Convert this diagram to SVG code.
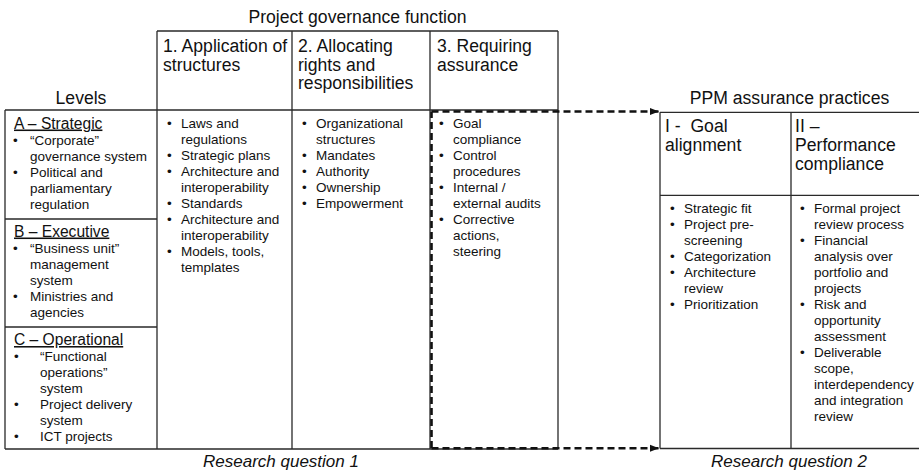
<svg xmlns="http://www.w3.org/2000/svg" width="919" height="473" viewBox="0 0 919 473">
<style>
text{font-family:"Liberation Sans",Arial,sans-serif;fill:#111}
.h{font-size:17.6px}
.b{font-size:13.5px}
.s{font-size:15.6px;text-decoration:underline}
.rq{font-size:17px;font-style:italic}
.ln{stroke:#2a2a2a;stroke-width:1.3;fill:none}
.dash{stroke:#111;stroke-width:2.6;fill:none;stroke-dasharray:7 4}
</style>
<defs>
<marker id="arr" markerUnits="userSpaceOnUse" markerWidth="10" markerHeight="10" refX="9" refY="5" orient="auto">
<path d="M0,1.5 L9,5 L0,8.5 Z" fill="#111"/>
</marker>
</defs>
<rect width="919" height="473" fill="#fff"/>

<g id="titles">
<text class="h" x="357.5" y="23" text-anchor="middle">Project governance function</text>
<text class="h" x="81" y="103.5" text-anchor="middle">Levels</text>
<text class="h" x="789.5" y="104" text-anchor="middle">PPM assurance practices</text>
<text class="rq" x="281" y="467" text-anchor="middle">Research question 1</text>
<text class="rq" x="789" y="467" text-anchor="middle">Research question 2</text>
</g>

<g id="grid-left">
<path class="ln" d="M157,31 H558 M5,110 H558 M5,449 H558 M5,110 V449 M157,31 V449 M292,31 V449 M430,31 V449 M558,31 V449 M5,219 H157 M5,327 H157"/>
</g>

<g id="grid-right">
<path class="ln" d="M660,112.3 H919 M660,195.3 H919 M660,448.5 H919 M660,112.3 V448.5 M791,112.3 V448.5"/>
</g>

<g id="level-a">
<text class="s" x="14" y="128.5">A – Strategic</text>
<text class="b"><tspan x="13" y="144.5">•</tspan><tspan x="30" y="144.5">“Corporate”</tspan><tspan x="30" y="160.5">governance system</tspan><tspan x="13" y="176.5">•</tspan><tspan x="30" y="176.5">Political and</tspan><tspan x="30" y="192.5">parliamentary</tspan><tspan x="30" y="208.5">regulation</tspan></text>
</g>

<g id="level-b">
<text class="s" x="14" y="236.5">B – Executive</text>
<text class="b"><tspan x="13" y="252.5">•</tspan><tspan x="30" y="252.5">“Business unit”</tspan><tspan x="30" y="268.5">management</tspan><tspan x="30" y="284.5">system</tspan><tspan x="13" y="300.5">•</tspan><tspan x="30" y="300.5">Ministries and</tspan><tspan x="30" y="316.5">agencies</tspan></text>
</g>

<g id="level-c">
<text class="s" x="14" y="345">C – Operational</text>
<text class="b"><tspan x="14" y="361">•</tspan><tspan x="40" y="361">“Functional</tspan><tspan x="40" y="377">operations”</tspan><tspan x="40" y="393">system</tspan><tspan x="14" y="409">•</tspan><tspan x="40" y="409">Project delivery</tspan><tspan x="40" y="425">system</tspan><tspan x="14" y="441">•</tspan><tspan x="40" y="441">ICT projects</tspan></text>
</g>

<g id="col-1">
<text class="h"><tspan x="163" y="52">1. Application of</tspan><tspan x="163" y="70.5">structures</tspan></text>
<text class="b"><tspan x="167" y="127.5">•</tspan><tspan x="181" y="127.5">Laws and</tspan><tspan x="181" y="143.5">regulations</tspan><tspan x="167" y="159.5">•</tspan><tspan x="181" y="159.5">Strategic plans</tspan><tspan x="167" y="175.5">•</tspan><tspan x="181" y="175.5">Architecture and</tspan><tspan x="181" y="191.5">interoperability</tspan><tspan x="167" y="207.5">•</tspan><tspan x="181" y="207.5">Standards</tspan><tspan x="167" y="223.5">•</tspan><tspan x="181" y="223.5">Architecture and</tspan><tspan x="181" y="239.5">interoperability</tspan><tspan x="167" y="255.5">•</tspan><tspan x="181" y="255.5">Models, tools,</tspan><tspan x="181" y="271.5">templates</tspan></text>
</g>

<g id="col-2">
<text class="h"><tspan x="298" y="52">2. Allocating</tspan><tspan x="298" y="70.5">rights and</tspan><tspan x="298" y="89">responsibilities</tspan></text>
<text class="b"><tspan x="302" y="127.5">•</tspan><tspan x="316" y="127.5">Organizational</tspan><tspan x="316" y="143.5">structures</tspan><tspan x="302" y="159.5">•</tspan><tspan x="316" y="159.5">Mandates</tspan><tspan x="302" y="175.5">•</tspan><tspan x="316" y="175.5">Authority</tspan><tspan x="302" y="191.5">•</tspan><tspan x="316" y="191.5">Ownership</tspan><tspan x="302" y="207.5">•</tspan><tspan x="316" y="207.5">Empowerment</tspan></text>
</g>

<g id="col-3">
<text class="h"><tspan x="437" y="52">3. Requiring</tspan><tspan x="437" y="70.5">assurance</tspan></text>
<text class="b"><tspan x="439" y="127.5">•</tspan><tspan x="453" y="127.5">Goal</tspan><tspan x="453" y="143.5">compliance</tspan><tspan x="439" y="159.5">•</tspan><tspan x="453" y="159.5">Control</tspan><tspan x="453" y="175.5">procedures</tspan><tspan x="439" y="191.5">•</tspan><tspan x="453" y="191.5">Internal /</tspan><tspan x="453" y="207.5">external audits</tspan><tspan x="439" y="223.5">•</tspan><tspan x="453" y="223.5">Corrective</tspan><tspan x="453" y="239.5">actions,</tspan><tspan x="453" y="255.5">steering</tspan></text>
</g>

<g id="ppm-1">
<text class="h" xml:space="preserve"><tspan x="665" y="131.5">I -  Goal</tspan><tspan x="665" y="150.5">alignment</tspan></text>
<text class="b"><tspan x="670" y="212.7">•</tspan><tspan x="684" y="212.7">Strategic fit</tspan><tspan x="670" y="228.7">•</tspan><tspan x="684" y="228.7">Project pre-</tspan><tspan x="684" y="244.7">screening</tspan><tspan x="670" y="260.7">•</tspan><tspan x="684" y="260.7">Categorization</tspan><tspan x="670" y="276.7">•</tspan><tspan x="684" y="276.7">Architecture</tspan><tspan x="684" y="292.7">review</tspan><tspan x="670" y="308.7">•</tspan><tspan x="684" y="308.7">Prioritization</tspan></text>
</g>

<g id="ppm-2">
<text class="h"><tspan x="795" y="131.5">II –</tspan><tspan x="795" y="150.5">Performance</tspan><tspan x="795" y="169.5">compliance</tspan></text>
<text class="b"><tspan x="800" y="212.7">•</tspan><tspan x="814" y="212.7">Formal project</tspan><tspan x="814" y="228.7">review process</tspan><tspan x="800" y="244.7">•</tspan><tspan x="814" y="244.7">Financial</tspan><tspan x="814" y="260.7">analysis over</tspan><tspan x="814" y="276.7">portfolio and</tspan><tspan x="814" y="292.7">projects</tspan><tspan x="800" y="308.7">•</tspan><tspan x="814" y="308.7">Risk and</tspan><tspan x="814" y="324.7">opportunity</tspan><tspan x="814" y="340.7">assessment</tspan><tspan x="800" y="356.7">•</tspan><tspan x="814" y="356.7">Deliverable</tspan><tspan x="814" y="372.7">scope,</tspan><tspan x="814" y="388.7">interdependency</tspan><tspan x="814" y="404.7">and integration</tspan><tspan x="814" y="420.7">review</tspan></text>
</g>

<g id="connectors">
<path class="dash" d="M431.5,448 V111.5"/>
<path class="dash" d="M431.5,111.5 H659" marker-end="url(#arr)"/>
<path class="dash" d="M431.5,448.3 H659" marker-end="url(#arr)"/>
</g>
</svg>
